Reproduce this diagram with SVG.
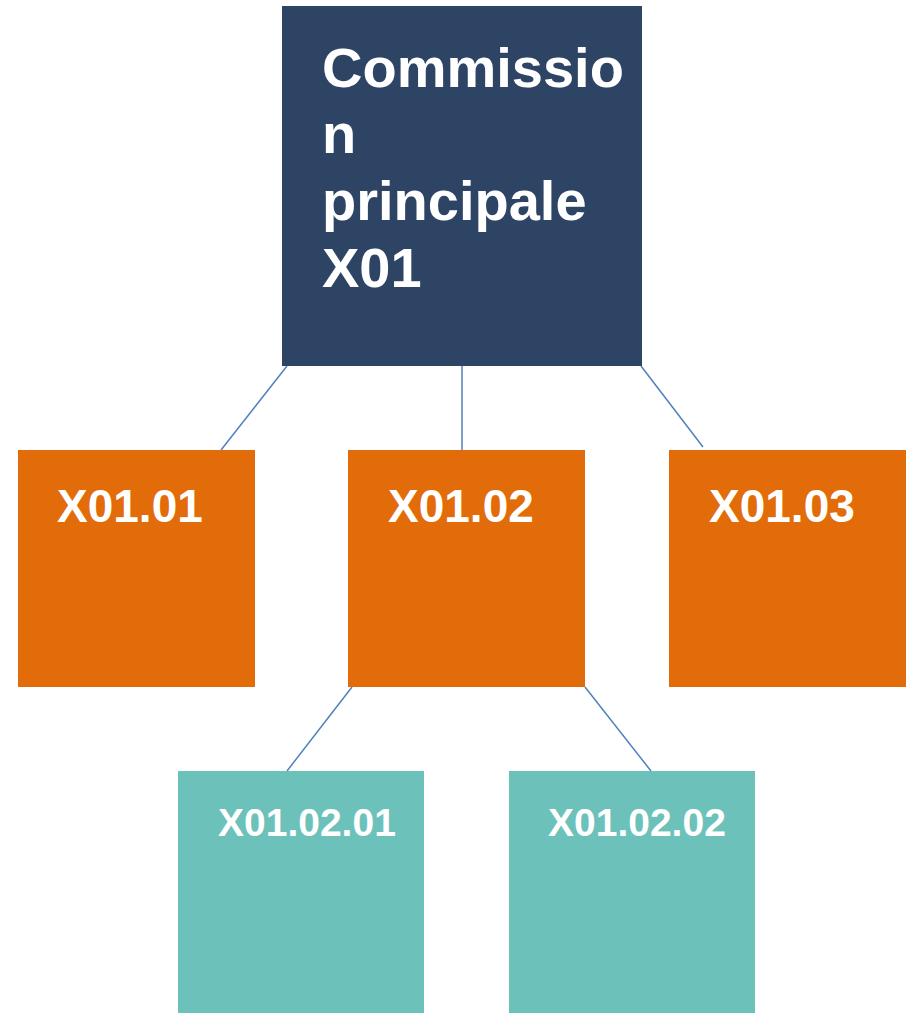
<svg xmlns="http://www.w3.org/2000/svg" width="909" height="1013" viewBox="0 0 909 1013">
<style>
.t{font-family:"Liberation Sans",Arial,sans-serif;font-weight:bold;fill:#fff}
.c{stroke:#4F81BD;stroke-width:1.5;fill:none}
.o{fill:#E36C0A}
.g{fill:#6CC2BA}
</style>
<rect width="909" height="1013" fill="#fff"/>
<g id="connectors">
<line class="c" x1="287" y1="366" x2="221" y2="450"/>
<line class="c" x1="462" y1="366" x2="462" y2="450"/>
<line class="c" x1="641" y1="366" x2="703" y2="447"/>
<line class="c" x1="352" y1="687" x2="287" y2="771"/>
<line class="c" x1="585" y1="687" x2="651" y2="771"/>
</g>
<g id="root">
<rect x="282" y="6" width="360" height="360" fill="#2E4465"/>
<text class="t" font-size="56" x="322"><tspan x="322" y="87">Commissio</tspan><tspan x="322" y="153">n</tspan><tspan x="322" y="220">principale</tspan><tspan x="322" y="287">X01</tspan></text>
</g>
<g id="x0101">
<rect class="o" x="18" y="450" width="237" height="237"/>
<text class="t" font-size="46" x="57" y="522">X01.01</text>
</g>
<g id="x0102">
<rect class="o" x="348" y="450" width="237" height="237"/>
<text class="t" font-size="46" x="388" y="522">X01.02</text>
</g>
<g id="x0103">
<rect class="o" x="669" y="450" width="237" height="237"/>
<text class="t" font-size="46" x="709" y="522">X01.03</text>
</g>
<g id="x010201">
<rect class="g" x="178" y="771" width="246" height="242"/>
<text class="t" font-size="39" x="218" y="836">X01.02.01</text>
</g>
<g id="x010202">
<rect class="g" x="509" y="771" width="246" height="242"/>
<text class="t" font-size="39" x="548" y="836">X01.02.02</text>
</g>
</svg>
